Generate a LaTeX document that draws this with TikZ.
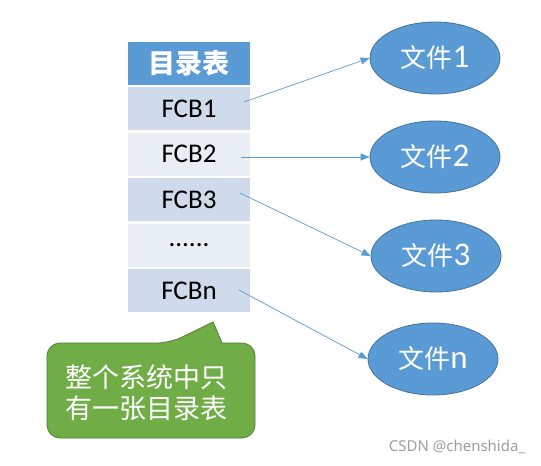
\documentclass[tikz,border=0pt]{standalone}
\usepackage{fontspec}
\setmainfont{Carlito}
\newfontfamily\cjk{Noto Sans CJK SC}
\newfontfamily\markfont{Noto Sans}
\usetikzlibrary{positioning,calc,arrows.meta,shapes.geometric}
\definecolor{hdblue}{HTML}{5B9BD5}
\definecolor{rowdark}{HTML}{CFDAEA}
\definecolor{rowlight}{HTML}{E9EDF4}
\definecolor{ellline}{HTML}{41719C}
\definecolor{notegreen}{HTML}{70AD47}
\definecolor{noteline}{HTML}{507E32}
\newcommand\filenum[1]{{\fontsize{33bp}{30bp}\selectfont #1}}

\begin{document}
\begin{tikzpicture}[x=1bp, y=-1bp,
    cell/.style={minimum width=122bp, minimum height=43bp, inner sep=0pt, font=\fontsize{27bp}{30bp}\selectfont},
    fileell/.style={ellipse, draw=ellline, line width=0.8bp, fill=hdblue, minimum width=130bp, minimum height=72bp, inner sep=0pt, text=white, font=\fontsize{26bp}{30bp}\selectfont},
    link/.style={draw=hdblue, line width=0.7bp, -{Triangle[length=9bp,width=7bp]}}]
    % frame
    \useasboundingbox(0,0)rectangle(541,466);
    % table
    \node[cell, fill=hdblue, text=white, font=\fontsize{27bp}{30bp}\selectfont\cjk\bfseries](head)at(189,63.5){目录表};
    \node[cell, fill=rowdark, below=2bp of head](fcb1){FCB1};
    \node[cell, fill=rowlight, below=2bp of fcb1](fcb2){FCB2};
    \node[cell, fill=rowdark, below=2bp of fcb2](fcb3){FCB3};
    \node[cell, fill=rowlight, below=2bp of fcb3](dots){......};
    \node[cell, fill=rowdark, below=2bp of dots](fcbn){FCBn};
    % files
    \node[fileell](f1)at(435,58){{\cjk 文件}\filenum{1}};
    \node[fileell](f2)at(435,157){{\cjk 文件}\filenum{2}};
    \node[fileell](f3)at(436,256){{\cjk 文件}\filenum{3}};
    \node[fileell](fn)at(433,359){{\cjk 文件}\filenum{n}};
    % pointers
    \coordinate(s1)at(244,102);
    \coordinate(s2)at(241,157);
    \coordinate(s3)at(240,193);
    \coordinate(sn)at(239,290);
    \path[link](s1)to(f1.west);
    \path[link](s2)to(f2.west);
    \path[link](s3)to(f3.west);
    \path[link](sn)to(fn.west);
    % callout
    \path[draw=noteline, line width=0.8bp, fill=notegreen, rounded corners=13bp]
        (170,343)[sharp corners]--(213,322)--(222,343)[rounded corners=13bp]--(255,343)--(255,438)--(47,438)--(47,343)--cycle;
    \node[text=white, align=left, font=\fontsize{27bp}{31bp}\selectfont\cjk](note)at(146,393){整个系统中只\\有一张目录表};
    % watermark
    \node[text=black!38, font=\markfont\fontsize{15bp}{18bp}\selectfont](mark)at(457,447){CSDN @chenshida\_};
\end{tikzpicture}
\end{document}
